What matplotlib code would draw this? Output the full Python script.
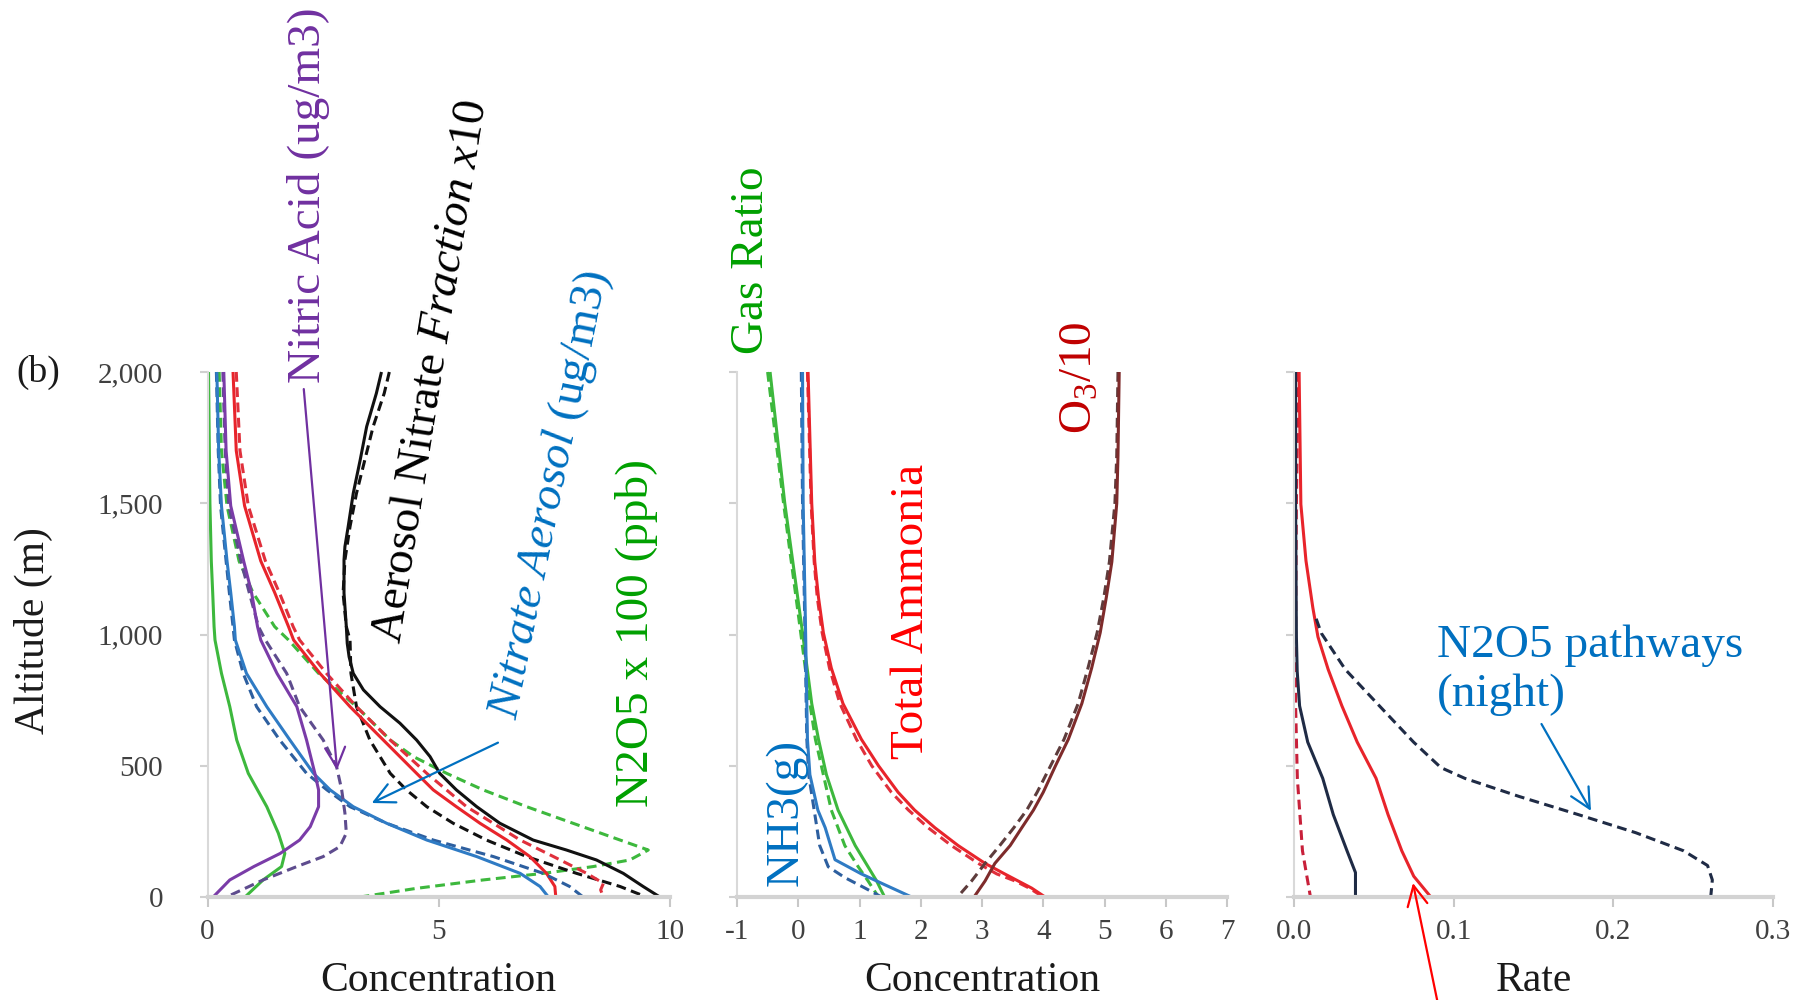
import matplotlib
matplotlib.use("Agg")
import matplotlib.pyplot as plt
from matplotlib.ticker import FuncFormatter, FormatStrFormatter

plt.rcParams['font.family'] = ['Liberation Serif', 'DejaVu Serif']
plt.rcParams['mathtext.fontset'] = 'custom'
plt.rcParams['mathtext.rm'] = 'Liberation Serif'
plt.rcParams['mathtext.it'] = 'Liberation Serif:italic'
plt.rcParams['axes.unicode_minus'] = False

# ---------------- data: left panel (Concentration) ----------------
alt_n2o5_s = [2000, 1500, 1280, 1160, 1030, 979, 852, 725, 598, 471, 344, 243, 166, 116, 65, 0]
n2o5_s = [0.02, 0.05, 0.08, 0.11, 0.14, 0.16, 0.30, 0.48, 0.63, 0.88, 1.28, 1.53, 1.67, 1.60, 1.20, 0.81]
alt_n2o5_d = [2000, 1700, 1490, 1280, 1160, 1030, 979, 852, 725, 598, 535, 471, 408, 344, 281, 217, 179, 141, 116, 90, 65, 33, 0]
n2o5_d = [0.25, 0.30, 0.42, 0.68, 0.98, 1.45, 1.75, 2.40, 3.22, 3.95, 4.45, 5.17, 5.96, 6.90, 7.90, 8.92, 9.53, 9.13, 8.34, 7.26, 5.96, 4.52, 3.30]

alt_hno3_s = [2000, 1700, 1490, 1280, 1160, 1030, 979, 852, 725, 598, 471, 408, 344, 268, 217, 166, 116, 65, 0]
hno3_s = [0.35, 0.40, 0.50, 0.78, 0.95, 1.08, 1.15, 1.50, 1.93, 2.14, 2.32, 2.40, 2.40, 2.22, 1.99, 1.57, 1.00, 0.48, 0.12]
alt_hno3_d = [2000, 1700, 1490, 1280, 1160, 1030, 979, 852, 725, 598, 496, 408, 319, 243, 192, 154, 116, 65, 0]
hno3_d = [0.33, 0.38, 0.46, 0.72, 0.90, 1.10, 1.25, 1.71, 1.99, 2.50, 2.79, 2.90, 2.97, 3.00, 2.86, 2.50, 1.93, 1.20, 0.41]

alt_no3 = [2000, 1700, 1490, 1280, 1160, 1030, 979, 852, 725, 598, 471, 408, 344, 281, 217, 154, 90, 40, 0]
no3_s = [0.20, 0.24, 0.30, 0.42, 0.50, 0.58, 0.60, 0.84, 1.28, 1.78, 2.29, 2.65, 3.15, 3.87, 4.74, 5.82, 6.76, 7.19, 7.37]
no3_d = [0.19, 0.23, 0.28, 0.40, 0.47, 0.55, 0.58, 0.77, 1.06, 1.56, 2.14, 2.58, 3.08, 3.87, 4.88, 6.18, 7.26, 7.83, 8.12]

alt_tno3_s = [2000, 1700, 1490, 1280, 1160, 1030, 979, 852, 725, 598, 471, 408, 344, 281, 217, 154, 90, 40, 0]
tno3_s = [0.55, 0.62, 0.80, 1.15, 1.45, 1.75, 1.86, 2.43, 3.08, 3.80, 4.52, 4.88, 5.38, 5.89, 6.47, 6.97, 7.33, 7.51, 7.53]
alt_tno3_d = [2000, 1700, 1490, 1280, 1160, 1030, 979, 852, 725, 598, 471, 344, 217, 154, 90, 52, 27, 0]
tno3_d = [0.62, 0.70, 0.88, 1.25, 1.55, 1.85, 1.99, 2.57, 3.22, 3.95, 4.74, 5.60, 6.76, 7.48, 8.20, 8.56, 8.50, 8.56]

alt_frac_s = [2000, 1919, 1792, 1665, 1538, 1411, 1335, 1284, 1157, 1030, 966, 915, 852, 789, 725, 662, 598, 535, 471, 408, 344, 281, 217, 179, 141, 90, 40, 0]
frac_s = [3.76, 3.65, 3.44, 3.30, 3.15, 3.04, 2.97, 2.95, 2.95, 3.00, 3.02, 3.06, 3.15, 3.37, 3.73, 4.16, 4.52, 4.81, 5.02, 5.38, 5.82, 6.32, 7.04, 7.76, 8.41, 8.99, 9.42, 9.78]
alt_frac_d = [2000, 1919, 1792, 1665, 1538, 1411, 1284, 1157, 1030, 979, 852, 725, 598, 471, 408, 344, 281, 217, 154, 90, 40, 0]
frac_d = [3.93, 3.82, 3.58, 3.40, 3.22, 3.08, 2.97, 2.93, 3.00, 3.08, 3.10, 3.22, 3.51, 3.95, 4.30, 4.74, 5.31, 6.03, 6.90, 7.98, 8.92, 9.49]

# ---------------- data: middle panel (Concentration) ----------------
alt_gas = [2000, 1500, 1007, 737, 601, 466, 331, 196, 115, 61, 0]
gas_s = [-0.46, -0.22, 0.07, 0.22, 0.33, 0.46, 0.65, 0.93, 1.14, 1.28, 1.41]
gas_d = [-0.50, -0.24, 0.04, 0.19, 0.28, 0.41, 0.54, 0.76, 0.98, 1.14, 1.31]

alt_nh3_s = [2000, 1500, 1007, 737, 601, 466, 331, 264, 142, 88, 47, 0]
nh3_s = [0.07, 0.08, 0.12, 0.14, 0.15, 0.19, 0.32, 0.44, 0.60, 1.03, 1.41, 1.85]
alt_nh3_d = [2000, 1500, 1007, 601, 466, 331, 196, 115, 74, 34, 0]
nh3_d = [0.05, 0.07, 0.11, 0.14, 0.17, 0.26, 0.35, 0.49, 0.76, 1.09, 1.36]

alt_tnh3 = [2000, 1500, 1277, 1142, 1007, 872, 737, 601, 500, 399, 331, 264, 196, 128, 88, 61, 34, 0]
tnh3_s = [0.16, 0.22, 0.27, 0.33, 0.41, 0.54, 0.73, 1.03, 1.31, 1.63, 1.90, 2.23, 2.61, 3.05, 3.37, 3.59, 3.81, 4.03]
tnh3_d = [0.15, 0.21, 0.26, 0.31, 0.39, 0.51, 0.68, 0.95, 1.20, 1.52, 1.80, 2.12, 2.50, 2.94, 3.24, 3.54, 3.77, 4.00]

alt_o3 = [2000, 1682, 1500, 1277, 1142, 1007, 872, 737, 601, 500, 399, 331, 264, 196, 128, 61, 0]
o3_s = [5.24, 5.22, 5.20, 5.12, 5.03, 4.93, 4.79, 4.63, 4.41, 4.20, 4.00, 3.84, 3.65, 3.46, 3.21, 3.05, 2.87]
o3_d = [5.22, 5.20, 5.17, 5.08, 4.99, 4.88, 4.73, 4.57, 4.34, 4.12, 3.90, 3.73, 3.52, 3.29, 3.05, 2.83, 2.60]

# ---------------- data: right panel (Rate) ----------------
alt_r_navy_s = [2000, 1496, 991, 860, 728, 590, 452, 314, 176, 93, 0]
r_navy_s = [0.001, 0.001, 0.0015, 0.002, 0.0035, 0.0086, 0.018, 0.0246, 0.0332, 0.0385, 0.0385]
alt_r_red_s = [2000, 1496, 1281, 1102, 991, 867, 728, 590, 452, 314, 176, 79, 0]
r_red_s = [0.0032, 0.0043, 0.0075, 0.0118, 0.015, 0.0214, 0.030, 0.0396, 0.0514, 0.0589, 0.0675, 0.075, 0.0857]
alt_r_red_d = [2000, 1496, 991, 728, 452, 176, 0]
r_red_d = [0.0026, 0.0015, 0.001, 0.001, 0.0021, 0.0053, 0.0103]
alt_r_navy_d = [1060, 1005, 867, 728, 590, 493, 452, 383, 314, 245, 176, 120, 65, 0]
r_navy_d = [0.0139, 0.0171, 0.0321, 0.0535, 0.0749, 0.092, 0.107, 0.141, 0.178, 0.214, 0.244, 0.259, 0.262, 0.261]

x_ticks_left = [0, 5, 10]
x_ticks_mid = [-1, 0, 1, 2, 3, 4, 5, 6, 7]
x_ticks_right = [0.0, 0.1, 0.2, 0.3]
y_ticks = [0, 500, 1000, 1500, 2000]

# ---------------- figure ----------------
W, H = 1796, 1000
fig = plt.figure(figsize=(W / 100, H / 100), dpi=100)

def px(x, y):
    return x / W, 1 - y / H

axL = fig.add_axes([207.6 / W, 0.103, (670 - 207.6) / W, 0.525])
axM = fig.add_axes([737 / W, 0.103, (1227 - 737) / W, 0.525])
axR = fig.add_axes([1294 / W, 0.103, (1773 - 1294) / W, 0.525])

LW = 2.2
DASH = (3.2, 1.8)

def sol(ax, x, y, c):
    ax.plot(x, y, color=c, lw=LW, solid_capstyle='butt', solid_joinstyle='round', clip_on=False)

def dsh(ax, x, y, c):
    ax.plot(x, y, color=c, lw=LW, linestyle=(0, DASH), clip_on=False)

GREEN = '#3DB83D'
PURPLE = '#7A3CA8'
PURPLE_D = '#5E4C8E'
BLUE = '#2F7BC4'
BLUE_D = '#2D5F9F'
RED = '#E8242B'
RED_D = '#E0303C'
BLACK = '#111111'
O3C = '#7E2B2B'
O3D = '#5E3C3C'
NAVY = '#1F2B45'

# left panel
dsh(axL, n2o5_d, alt_n2o5_d, GREEN)
sol(axL, n2o5_s, alt_n2o5_s, GREEN)
dsh(axL, frac_d, alt_frac_d, BLACK)
sol(axL, frac_s, alt_frac_s, BLACK)
dsh(axL, tno3_d, alt_tno3_d, RED_D)
sol(axL, tno3_s, alt_tno3_s, RED)
dsh(axL, no3_d, alt_no3, BLUE_D)
sol(axL, no3_s, alt_no3, BLUE)
dsh(axL, hno3_d, alt_hno3_d, PURPLE_D)
sol(axL, hno3_s, alt_hno3_s, PURPLE)

# middle panel
dsh(axM, gas_d, alt_gas, GREEN)
sol(axM, gas_s, alt_gas, GREEN)
dsh(axM, nh3_d, alt_nh3_d, BLUE_D)
sol(axM, nh3_s, alt_nh3_s, BLUE)
dsh(axM, tnh3_d, alt_tnh3, RED_D)
sol(axM, tnh3_s, alt_tnh3, RED)
dsh(axM, o3_d, alt_o3, O3D)
sol(axM, o3_s, alt_o3, O3C)

# right panel
dsh(axR, r_red_d, alt_r_red_d, '#C8203A')
sol(axR, r_navy_s, alt_r_navy_s, NAVY)
sol(axR, r_red_s, alt_r_red_s, RED)
dsh(axR, r_navy_d, alt_r_navy_d, NAVY)

TICKC = '#404040'
for ax, xt, xl in [(axL, x_ticks_left, (0, 10)), (axM, x_ticks_mid, (-1, 7)), (axR, x_ticks_right, (0, 0.3))]:
    ax.set_xlim(*xl)
    ax.set_ylim(0, 2000)
    ax.set_xticks(xt)
    ax.set_yticks(y_ticks)
    for s in ['top', 'right']:
        ax.spines[s].set_visible(False)
    ax.spines['bottom'].set_color('#d3d3d3')
    ax.spines['bottom'].set_linewidth(3)
    ax.spines['left'].set_color('#d9d9d9')
    ax.spines['left'].set_linewidth(1.5)
    ax.tick_params(axis='x', direction='out', length=7, width=1.5, color='#c8c8c8',
                   labelsize=21, labelcolor=TICKC, pad=9)
    ax.tick_params(axis='y', direction='out', length=6, width=1.5, color='#d0d0d0',
                   labelsize=21, labelcolor=TICKC, pad=26)
    ax.set_facecolor('none')

axL.yaxis.set_major_formatter(FuncFormatter(lambda v, p: f'{int(v):,}'))
axM.set_yticklabels([])
axR.set_yticklabels([])
axR.xaxis.set_major_formatter(FormatStrFormatter('%.1f'))

axL.set_xlabel('Concentration', fontsize=30, color='#1a1a1a', labelpad=12)
axM.set_xlabel('Concentration', fontsize=30, color='#1a1a1a', labelpad=12)
axR.set_xlabel('Rate', fontsize=30, color='#1a1a1a', labelpad=12)

fig.text(*px(33, 631), 'Altitude (m)', rotation=90, fontsize=30, color='#1a1a1a',
         ha='center', va='center')
fig.text(*px(38, 372), '(b)', fontsize=27, color='#1a1a1a', ha='center', va='center')

# ---------------- annotations ----------------
FS = 34
fig.text(*px(308, 195), 'Nitric Acid (ug/m3)', rotation=90, fontsize=FS, color='#7030A0',
         ha='center', va='center')
fig.text(*px(432, 372), r'Aerosol Nitrate $\mathit{Fraction\ x10}$', rotation=81, fontsize=FS,
         color='#000000', ha='center', va='center')
fig.text(*px(550, 495), r'$\mathit{Nitrate\ Aerosol}$ (ug/m3)', rotation=78.5, fontsize=FS,
         color='#0070C0', ha='center', va='center')
fig.text(*px(636, 633), 'N2O5 x 100 (ppb)', rotation=90, fontsize=FS, color='#00A000',
         ha='center', va='center')
fig.text(*px(752, 260), 'Gas Ratio', rotation=90, fontsize=FS, color='#00A000',
         ha='center', va='center')
fig.text(*px(1080, 378), r'O$_3$/10', rotation=90, fontsize=FS, color='#C00000',
         ha='center', va='center')
fig.text(*px(912, 611), 'Total Ammonia', rotation=90, fontsize=FS, color='#FF0000',
         ha='center', va='center')
fig.text(*px(786, 812), 'NH3(g)', rotation=90, fontsize=FS, color='#0070C0',
         ha='center', va='center')
fig.text(*px(1437, 670), 'N2O5 pathways\n(night)', fontsize=FS, color='#0070C0',
         ha='left', va='center', linespacing=1.2)

def arrow(ax, head, tail, color):
    ax.annotate('', xy=head, xytext=tail, xycoords='data', textcoords='data',
                annotation_clip=False,
                arrowprops=dict(arrowstyle='->,head_length=0.6,head_width=0.3', color=color,
                                lw=1.6, mutation_scale=24, shrinkA=0, shrinkB=0))

arrow(axL, (2.80, 484), (2.08, 1935), '#7030A0')
arrow(axL, (3.55, 358), (6.28, 588), '#0070C0')
arrow(axR, (0.186, 328), (0.155, 659), '#0070C0')
arrow(axR, (0.0745, 53), (0.0899, -400), '#FF0000')

fig.savefig('out.png', dpi=100, facecolor='white')
